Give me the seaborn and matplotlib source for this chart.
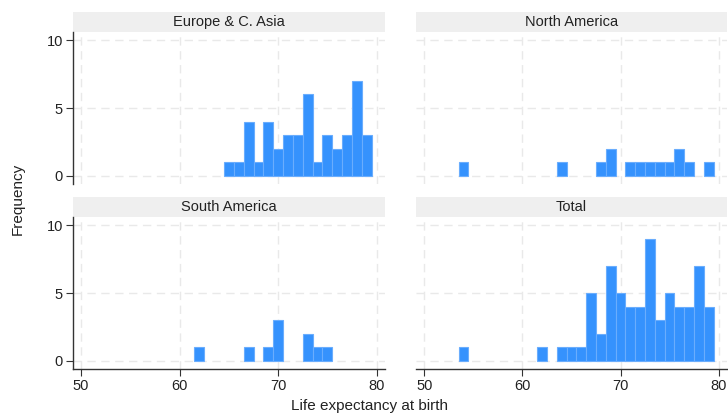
import pandas as pd
import numpy as np
import matplotlib.pyplot as plt
import seaborn as sns
from matplotlib.patches import Rectangle

# life expectancy (integer years) and number of countries per region
ages = [54, 62, 64, 65, 66, 67, 68, 69, 70, 71, 72, 73, 74, 75, 76, 77, 78, 79]
europe = [0, 0, 0, 1, 1, 4, 1, 4, 2, 3, 3, 6, 1, 3, 2, 3, 7, 3]
north_america = [1, 0, 1, 0, 0, 0, 1, 2, 0, 1, 1, 1, 1, 1, 2, 1, 0, 1]
south_america = [0, 1, 0, 0, 0, 1, 0, 1, 3, 0, 0, 2, 1, 1, 0, 0, 0, 0]
regions = ["Europe & C. Asia", "North America", "South America", "Total"]

# build a long table, Total = sum of all regions
total = [a + b + c for a, b, c in zip(europe, north_america, south_america)]
frames = []
for name, counts in zip(regions, [europe, north_america, south_america, total]):
    frames.append(pd.DataFrame({"region": name, "lexp": ages, "count": counts}))
df = pd.concat(frames, ignore_index=True)
df = df[df["count"] > 0]

sns.set_theme(style="white")
plt.rcParams["font.family"] = ["Liberation Sans", "DejaVu Sans"]

bar_color = "#3592fd"
edge_color = "#6aadfd"
grid_color = "#e9e9e9"
strip_color = "#efefef"

g = sns.FacetGrid(df, col="region", col_wrap=2, col_order=regions,
                  sharex=True, sharey=True, despine=False)
g.map_dataframe(sns.histplot, x="lexp", weights="count", discrete=True,
                color=bar_color, edgecolor=edge_color, linewidth=0.8, alpha=1)
g.figure.set_size_inches(7.28, 4.15)

# panel positions (figure fractions)
pos = {
    "Europe & C. Asia": [0.0999, 0.5566, 0.4290, 0.3663],
    "North America": [0.5714, 0.5566, 0.4272, 0.3663],
    "South America": [0.0999, 0.1108, 0.4290, 0.3663],
    "Total": [0.5714, 0.1108, 0.4272, 0.3663],
}
strip_h = 20 / 152

for name, ax in g.axes_dict.items():
    # hide the empty bins seaborn fills in between
    for p in ax.patches:
        if p.get_height() == 0:
            p.set_visible(False)
    ax.set_position(pos[name])
    ax.set_xlim(49.15, 80.85)
    ax.set_ylim(-0.6, 10.6)
    ax.set_xticks([50, 60, 70, 80])
    ax.set_yticks([0, 5, 10])
    ax.set_title("")
    ax.set_xlabel("")
    ax.set_ylabel("")
    ax.set_axisbelow(True)
    ax.grid(True, color=grid_color, linestyle=(0, (6, 4)), linewidth=1.0)
    for s in ax.spines.values():
        s.set_visible(False)
    left = name in ("Europe & C. Asia", "South America")
    bottom = name in ("South America", "Total")
    if left:
        ax.spines["left"].set_visible(True)
        ax.spines["left"].set_color("#333333")
        ax.spines["left"].set_linewidth(1.0)
    if bottom:
        ax.spines["bottom"].set_visible(True)
        ax.spines["bottom"].set_color("#333333")
        ax.spines["bottom"].set_linewidth(1.0)
    ax.tick_params(axis="y", left=left, labelleft=left, length=5, width=0.8,
                   color="#333333", labelsize=10.5, labelcolor="#222222", pad=2)
    ax.tick_params(axis="x", bottom=bottom, labelbottom=bottom, length=5,
                   width=0.8, color="#333333", labelsize=10.5,
                   labelcolor="#222222", pad=2)
    ax.add_patch(Rectangle((0, 1), 1, strip_h, transform=ax.transAxes,
                           facecolor=strip_color, edgecolor="none",
                           clip_on=False))
    ax.text(0.5, 1 + strip_h / 2, name, transform=ax.transAxes,
            ha="center", va="center", fontsize=10.5, color="#222222")

g.figure.text(0.508, 0.022, "Life expectancy at birth", ha="center",
              va="center", fontsize=11, color="#222222")
g.figure.text(0.024, 0.52, "Frequency", ha="center", va="center",
              rotation=90, fontsize=11, color="#222222")

g.figure.savefig("out.png", dpi=100, facecolor="white")
